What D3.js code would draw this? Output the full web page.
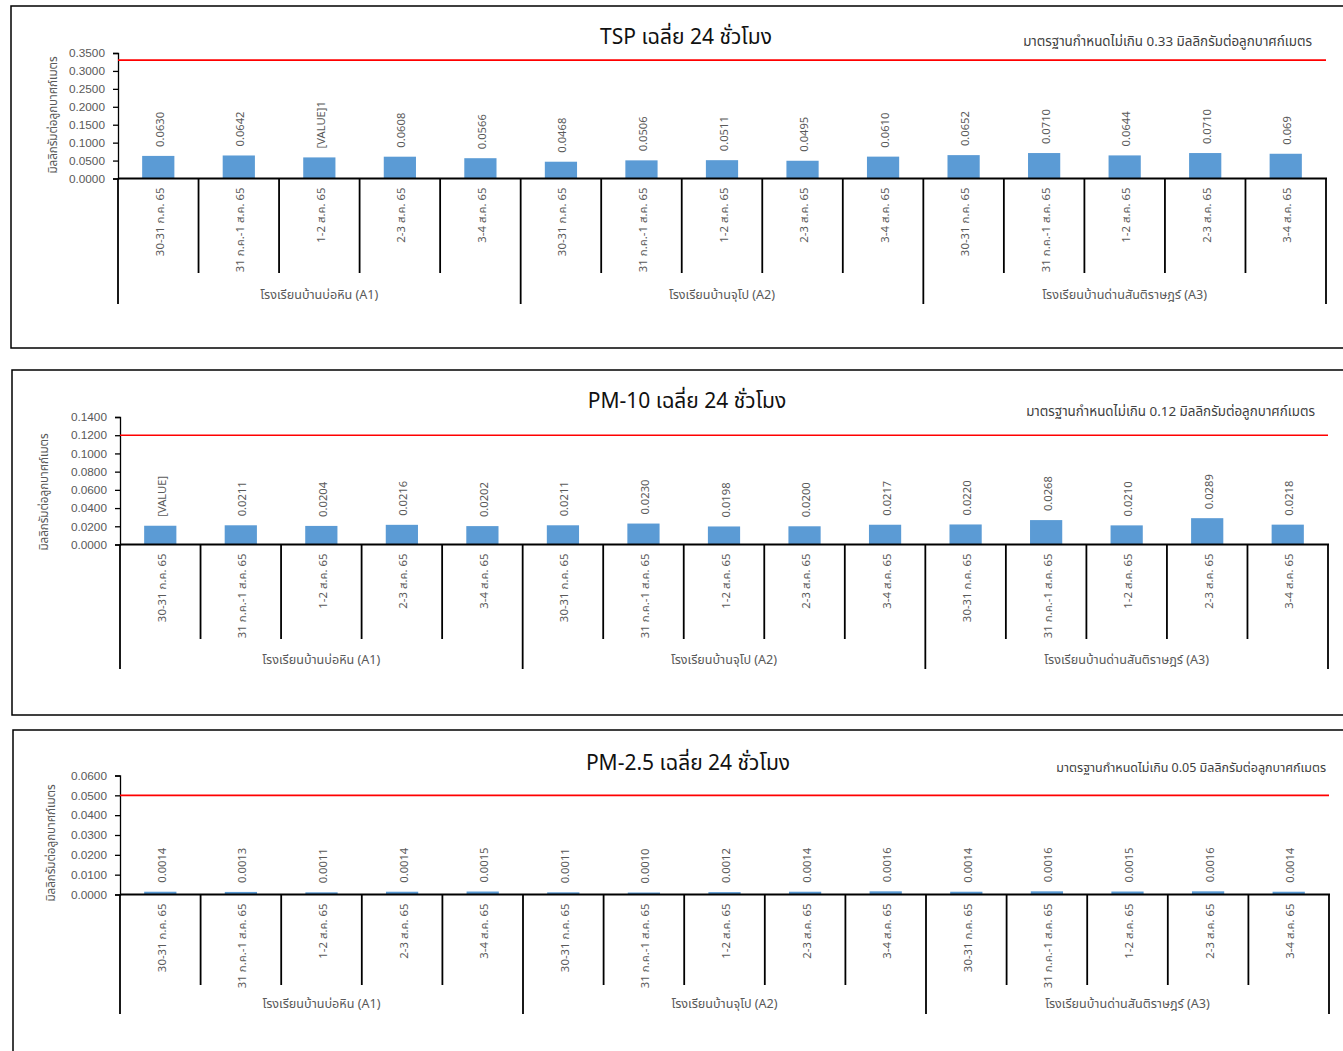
<!DOCTYPE html>
<html><head><meta charset="utf-8">
<script src="https://cdn.jsdelivr.net/npm/d3@7"></script>
<style>
html,body{margin:0;padding:0;background:#fff;}
svg{display:block;font-family:"Noto Sans","Noto Sans Thai","Tahoma",sans-serif;}
</style></head>
<body><svg id="c" width="1343" height="1051"></svg>
<script>
// ---------- data ----------
const categories = ["30-31 ก.ค. 65","31 ก.ค.-1 ส.ค. 65","1-2 ส.ค. 65","2-3 ส.ค. 65","3-4 ส.ค. 65"];
const groups = ["โรงเรียนบ้านบ่อหิน (A1)","โรงเรียนบ้านจุโป (A2)","โรงเรียนบ้านด่านสันติราษฎร์ (A3)"];

const tspValues = [0.0630,0.0642,0.0588,0.0608,0.0566, 0.0468,0.0506,0.0511,0.0495,0.0610, 0.0652,0.0710,0.0644,0.0710,0.069];
const tspLabels = ["0.0630","0.0642","[VALUE]1","0.0608","0.0566","0.0468","0.0506","0.0511","0.0495","0.0610","0.0652","0.0710","0.0644","0.0710","0.069"];
const tspTicks = [0,0.05,0.10,0.15,0.20,0.25,0.30,0.35];
const tspStandard = 0.33;

const pm10Values = [0.0206,0.0211,0.0204,0.0216,0.0202, 0.0211,0.0230,0.0198,0.0200,0.0217, 0.0220,0.0268,0.0210,0.0289,0.0218];
const pm10Labels = ["[VALUE]","0.0211","0.0204","0.0216","0.0202","0.0211","0.0230","0.0198","0.0200","0.0217","0.0220","0.0268","0.0210","0.0289","0.0218"];
const pm10Ticks = [0,0.02,0.04,0.06,0.08,0.10,0.12,0.14];
const pm10Standard = 0.12;

const pm25Values = [0.0014,0.0013,0.0011,0.0014,0.0015, 0.0011,0.0010,0.0012,0.0014,0.0016, 0.0014,0.0016,0.0015,0.0016,0.0014];
const pm25Labels = ["0.0014","0.0013","0.0011","0.0014","0.0015","0.0011","0.0010","0.0012","0.0014","0.0016","0.0014","0.0016","0.0015","0.0016","0.0014"];
const pm25Ticks = [0,0.01,0.02,0.03,0.04,0.05,0.06];
const pm25Standard = 0.05;

const titles = ["TSP เฉลี่ย 24 ชั่วโมง","PM-10 เฉลี่ย 24 ชั่วโมง","PM-2.5 เฉลี่ย 24 ชั่วโมง"];
const notes = ["มาตรฐานกำหนดไม่เกิน 0.33 มิลลิกรัมต่อลูกบาศก์เมตร","มาตรฐานกำหนดไม่เกิน 0.12 มิลลิกรัมต่อลูกบาศก์เมตร","มาตรฐานกำหนดไม่เกิน 0.05 มิลลิกรัมต่อลูกบาศก์เมตร"];
const yTitle = "มิลลิกรัมต่อลูกบาศก์เมตร";

// ---------- layout ----------
const panels = [
  {values:tspValues, labels:tspLabels, ticks:tspTicks, std:tspStandard, title:titles[0], note:notes[0],
   frame:{x:11,y:6,h:342}, x0:118, x1:1326, y0:178.5, yTop:53, innerB:273, groupB:304, groupLY:294,
   titleY:36, titleX:686, noteX:1312, noteY:41, noteSize:13.4, yTitleX:52, yTitleCY:115},
  {values:pm10Values, labels:pm10Labels, ticks:pm10Ticks, std:pm10Standard, title:titles[1], note:notes[1],
   frame:{x:12,y:370,h:345}, x0:120, x1:1328, y0:544.5, yTop:417, innerB:639, groupB:669, groupLY:659,
   titleY:400, titleX:687, noteX:1315, noteY:411, noteSize:13.4, yTitleX:43, yTitleCY:492},
  {values:pm25Values, labels:pm25Labels, ticks:pm25Ticks, std:pm25Standard, title:titles[2], note:notes[2],
   frame:{x:13,y:730,h:400}, x0:120, x1:1329, y0:894.5, yTop:775.5, innerB:985, groupB:1014, groupLY:1003,
   titleY:762, titleX:688, noteX:1326, noteY:767, noteSize:12.5, yTitleX:50, yTitleCY:843}
];

const svg = d3.select("#c");
const grey = "#595959";

panels.forEach(p => {
  const g = svg.append("g");
  // frame
  g.append("rect").attr("x",p.frame.x).attr("y",p.frame.y).attr("width",1343-p.frame.x+10).attr("height",p.frame.h)
    .attr("fill","#fff").attr("stroke","#000").attr("stroke-width",1.5);

  const keys = [];
  groups.forEach(gr => categories.forEach(c => keys.push(gr+"|"+c)));
  const x = d3.scaleBand().domain(keys).range([p.x0,p.x1]).paddingInner(0.6).paddingOuter(0.3);
  const xs = d3.scaleBand().domain(keys).range([p.x0,p.x1]);
  const y = d3.scaleLinear().domain([0,p.ticks[p.ticks.length-1]]).range([p.y0,p.yTop]);

  // title
  g.append("text").attr("x",p.titleX).attr("y",p.titleY).attr("text-anchor","middle")
    .attr("dominant-baseline","central").attr("font-size",21).attr("fill","#111").text(p.title);
  g.append("text").attr("x",p.noteX).attr("y",p.noteY).attr("text-anchor","end")
    .attr("dominant-baseline","central").attr("font-size",p.noteSize).attr("fill","#404040").text(p.note);

  // y axis
  const ya = d3.axisLeft(y).tickValues(p.ticks).tickFormat(d3.format(".4f")).tickSize(5).tickPadding(8);
  const yg = g.append("g").attr("transform",`translate(${p.x0},0)`).call(ya);
  yg.select(".domain").attr("stroke","#000").attr("stroke-width",1.3);
  yg.selectAll(".tick line").attr("stroke","#000").attr("stroke-width",1.3);
  yg.selectAll(".tick text").attr("fill",grey).attr("font-size",11.8).attr("font-family",null);

  // y title
  g.append("text").attr("transform",`translate(${p.yTitleX},${p.yTitleCY}) rotate(-90)`).attr("text-anchor","middle")
    .attr("dominant-baseline","central").attr("font-size",11.6).attr("fill",grey).text(yTitle);

  // bars
  g.selectAll("rect.bar").data(p.values).enter().append("rect").attr("class","bar")
    .attr("x",(d,i)=>x(keys[i])).attr("width",x.bandwidth())
    .attr("y",d=>y(d)).attr("height",d=>p.y0-y(d)).attr("fill","#5b9bd5");

  // value labels
  g.selectAll("text.val").data(p.values).enter().append("text").attr("class","val")
    .attr("transform",(d,i)=>`translate(${xs(keys[i])+xs.bandwidth()/2+1},${y(d)-9}) rotate(-90)`)
    .attr("text-anchor","start").attr("dominant-baseline","central").attr("font-size",11.2).attr("fill",grey)
    .text((d,i)=>p.labels[i]);

  // standard line
  g.append("line").attr("x1",p.x0).attr("x2",p.x1).attr("y1",y(p.std)).attr("y2",y(p.std))
    .attr("stroke","#ff0000").attr("stroke-width",1.6);

  // x axis line
  g.append("line").attr("x1",p.x0).attr("x2",p.x1+1).attr("y1",p.y0).attr("y2",p.y0).attr("stroke","#000").attr("stroke-width",1.8);

  // separators
  keys.forEach((k,i) => {
    if (i===0) return;
    const xx = xs(k);
    const isGroup = i % categories.length === 0;
    g.append("line").attr("x1",xx).attr("x2",xx).attr("y1",p.y0).attr("y2",isGroup?p.groupB:p.innerB)
      .attr("stroke","#000").attr("stroke-width",1.8);
  });
  [p.x0,p.x1].forEach(xx => g.append("line").attr("x1",xx).attr("x2",xx).attr("y1",p.y0).attr("y2",p.groupB)
      .attr("stroke","#000").attr("stroke-width",1.8));

  // category labels
  g.selectAll("text.cat").data(keys).enter().append("text").attr("class","cat")
    .attr("transform",k=>`translate(${xs(k)+xs.bandwidth()/2+1},${p.y0+9}) rotate(-90)`)
    .attr("text-anchor","end").attr("dominant-baseline","central").attr("font-size",11.4).attr("fill",grey)
    .text(k=>k.split("|")[1]);

  // group labels
  groups.forEach((gr,gi) => {
    const a = xs(gr+"|"+categories[0]);
    const b = xs(gr+"|"+categories[categories.length-1])+xs.bandwidth();
    g.append("text").attr("x",(a+b)/2).attr("y",p.groupLY).attr("text-anchor","middle")
      .attr("dominant-baseline","central").attr("font-size",12.6).attr("fill",grey).text(gr);
  });
});
</script></body></html>
